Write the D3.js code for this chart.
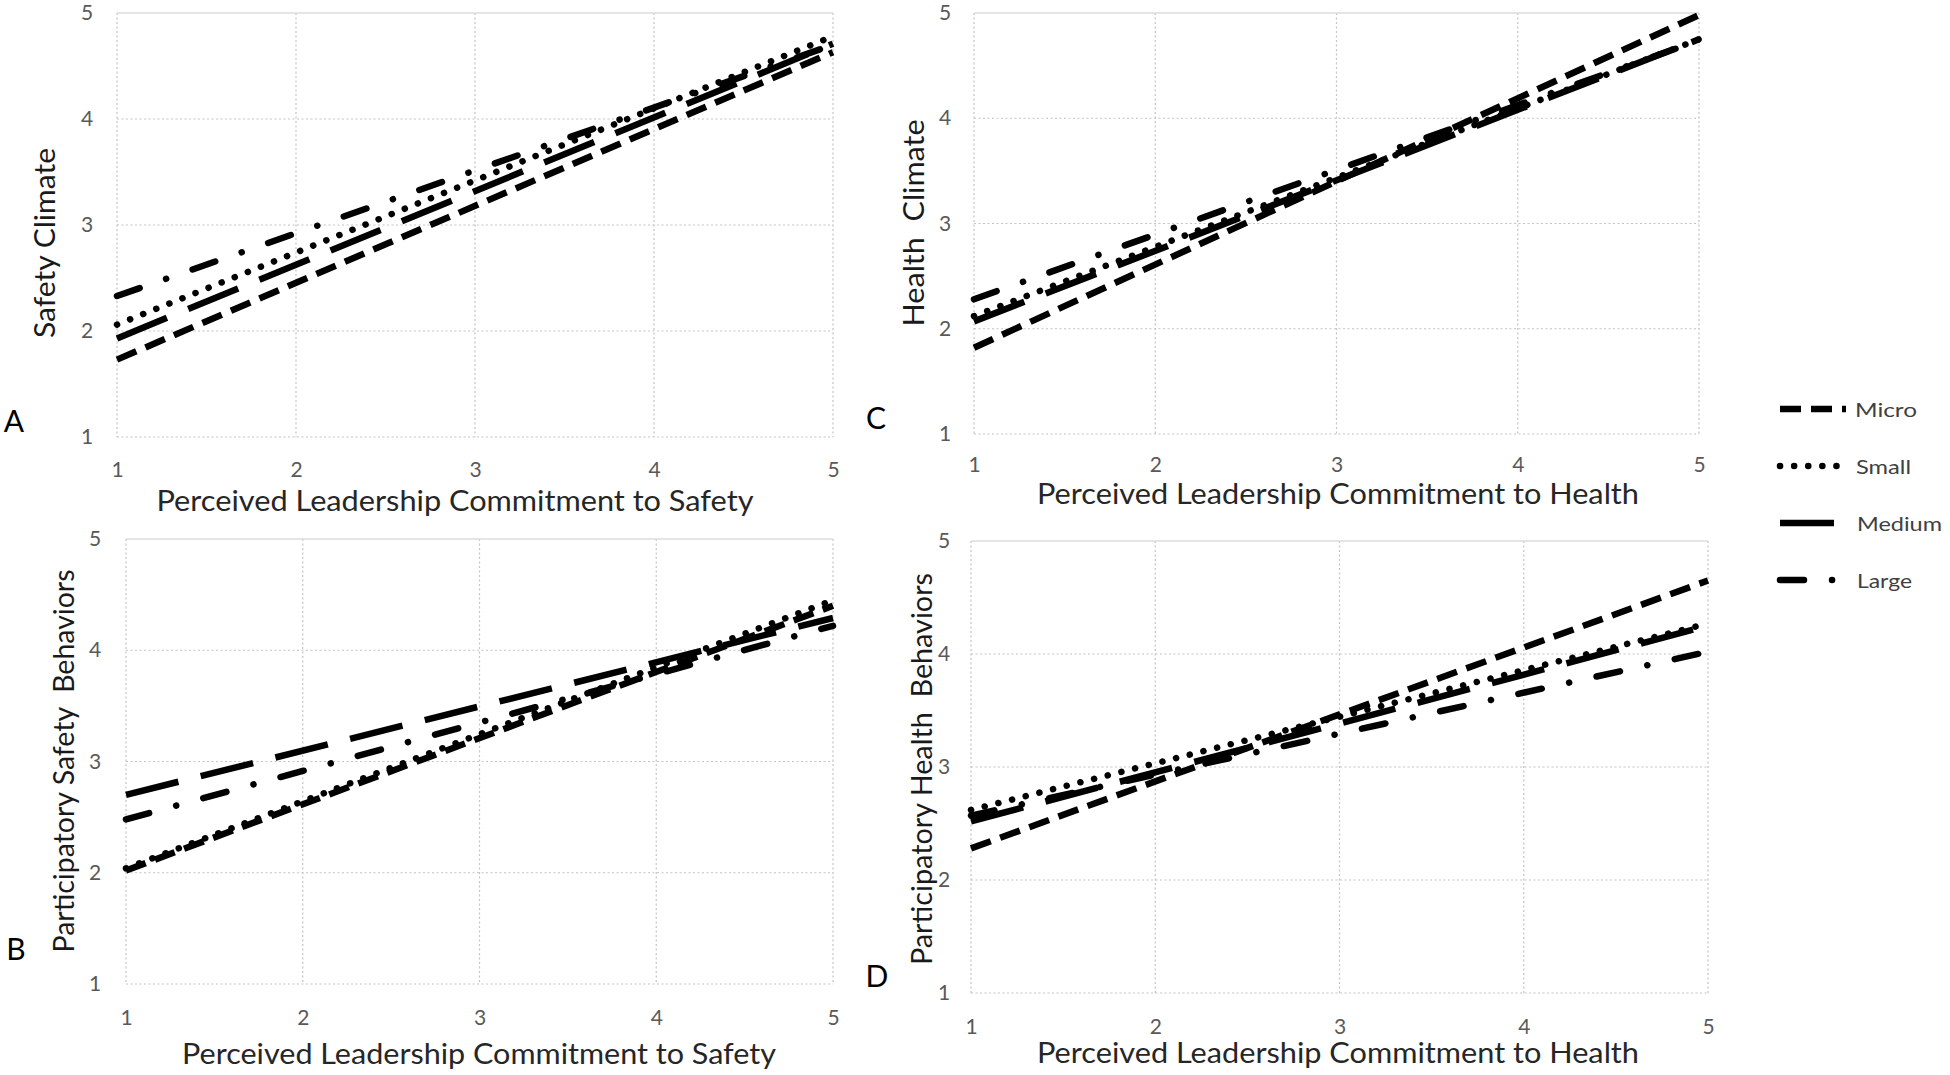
<!DOCTYPE html>
<html>
<head>
<meta charset="utf-8">
<script src="https://cdn.jsdelivr.net/npm/d3@7"></script>
<style>
  html, body { margin: 0; padding: 0; background: #fff; }
  svg text { font-family: Lato, "Open Sans", "Noto Sans", sans-serif; white-space: pre; }
</style>
</head>
<body>
<svg id="chart" width="1950" height="1075"></svg>
<script>
// ---------- data ----------
const seriesNames = ["Micro", "Small", "Medium", "Large"];
const xTickValues = [1, 2, 3, 4, 5];
const yTickValues = [1, 2, 3, 4, 5];
const xDomain = [1, 5];
const yDomain = [1, 5];

// value of each series at x = 1 and at x = 5
const safetyClimateStart = [1.73, 2.06, 1.93, 2.33];
const safetyClimateEnd   = [4.63, 4.78, 4.71, 4.70];

const safetyBehaviorStart = [2.02, 2.04, 2.70, 2.48];
const safetyBehaviorEnd   = [4.40, 4.45, 4.29, 4.22];

const healthClimateStart = [1.82, 2.12, 2.07, 2.28];
const healthClimateEnd   = [4.98, 4.75, 4.75, 4.74];

const healthBehaviorStart = [2.28, 2.62, 2.52, 2.57];
const healthBehaviorEnd   = [4.65, 4.27, 4.25, 4.02];

const panelLetters = ["A", "B", "C", "D"];
const xTitles = [
  "Perceived Leadership Commitment to Safety",
  "Perceived Leadership Commitment to Safety",
  "Perceived Leadership Commitment to Health",
  "Perceived Leadership Commitment to Health"
];
const yTitles = [
  "Safety Climate",
  "Participatory Safety  Behaviors",
  "Health  Climate",
  "Participatory Health  Behaviors"
];

// ---------- layout / style ----------
const panels = [
  { box: {l:117, r:833, t:13, b:437}, start: safetyClimateStart, end: safetyClimateEnd,
    letter: [14, 420], yTitle: [44, 243, 190], xTitle: [455, 500, 597], xTickY: 470, yTickX: 87 },
  { box: {l:126, r:833, t:539, b:984}, start: safetyBehaviorStart, end: safetyBehaviorEnd,
    letter: [16, 948], yTitle: [63, 761, 383], xTitle: [479, 1053, 594], xTickY: 1018, yTickX: 95 },
  { box: {l:974, r:1699, t:13, b:434}, start: healthClimateStart, end: healthClimateEnd,
    letter: [876, 417], yTitle: [913, 223, 207], xTitle: [1338, 493, 602], xTickY: 465, yTickX: 945 },
  { box: {l:971, r:1708, t:541, b:993}, start: healthBehaviorStart, end: healthBehaviorEnd,
    letter: [877, 975], yTitle: [921, 769, 392], xTitle: [1338, 1052, 602], xTickY: 1027, yTickX: 944 }
];

const SW = 6.5;
const styles = {
  Micro:  { dash: "21,10", cap: "butt" },
  Small:  { dash: "0.1,14", cap: "round" },
  Medium: { dash: "54,23", cap: "butt" },
  Large:  { dash: "24,28,0.1,28", cap: "round" }
};

const svg = d3.select("#chart");

panels.forEach((p, i) => {
  const x = d3.scaleLinear().domain(xDomain).range([p.box.l, p.box.r]);
  const y = d3.scaleLinear().domain(yDomain).range([p.box.b, p.box.t]);
  const g = svg.append("g");

  // grid (vertical)
  g.append("g").selectAll("line").data(xTickValues).join("line")
    .attr("x1", d => x(d)).attr("x2", d => x(d))
    .attr("y1", y(yDomain[1])).attr("y2", y(yDomain[0]))
    .attr("stroke", "#c4c4c4").attr("stroke-width", 1.2).attr("stroke-dasharray", "2,2.5");
  // grid (horizontal)
  g.append("g").selectAll("line").data(yTickValues).join("line")
    .attr("x1", x(xDomain[0])).attr("x2", x(xDomain[1]))
    .attr("y1", d => y(d)).attr("y2", d => y(d))
    .attr("stroke", d => d === yDomain[1] ? "#dddddd" : "#c4c4c4")
    .attr("stroke-width", d => d === yDomain[1] ? 1.6 : 1.2)
    .attr("stroke-dasharray", d => d === yDomain[1] ? null : "2,2.5");

  // tick labels via axes
  const xAxis = d3.axisBottom(x).tickValues(xTickValues).tickSize(0).tickFormat(d3.format("d"));
  const gx = g.append("g").attr("transform", `translate(0,${p.xTickY})`).call(xAxis);
  gx.select(".domain").remove();
  gx.selectAll("text").attr("dy", "0.35em").attr("y", 0)
    .attr("fill", "#595959").style("font-size", "21px").style("font-family", "Lato, sans-serif");

  const yAxis = d3.axisLeft(y).tickValues(yTickValues).tickSize(0).tickFormat(d3.format("d"));
  const gy = g.append("g").attr("transform", `translate(${p.yTickX},0)`).call(yAxis);
  gy.select(".domain").remove();
  gy.selectAll("text").attr("x", 0).attr("text-anchor", "middle")
    .attr("fill", "#595959").style("font-size", "21px").style("font-family", "Lato, sans-serif");

  // series lines
  const line = d3.line().x(d => x(d[0])).y(d => y(d[1]));
  seriesNames.forEach((name, k) => {
    const pts = [[xDomain[0], p.start[k]], [xDomain[1], p.end[k]]];
    g.append("path").datum(pts).attr("d", line)
      .attr("fill", "none").attr("stroke", "#000").attr("stroke-width", SW)
      .attr("stroke-dasharray", styles[name].dash).attr("stroke-linecap", styles[name].cap);
  });

  // axis titles
  g.append("text").attr("x", p.xTitle[0]).attr("y", p.xTitle[1])
    .attr("text-anchor", "middle").attr("dominant-baseline", "central")
    .attr("textLength", p.xTitle[2]).attr("lengthAdjust", "spacingAndGlyphs")
    .attr("fill", "#262626").style("font-size", "28px").text(xTitles[i]);

  g.append("text").attr("transform", `translate(${p.yTitle[0]},${p.yTitle[1]}) rotate(-90)`)
    .attr("text-anchor", "middle").attr("dominant-baseline", "central")
    .attr("textLength", p.yTitle[2]).attr("lengthAdjust", "spacingAndGlyphs")
    .attr("fill", "#1a1a1a").style("font-size", "28px").text(yTitles[i]);

  // panel letter
  g.append("text").attr("x", p.letter[0]).attr("y", p.letter[1])
    .attr("text-anchor", "middle").attr("dominant-baseline", "central")
    .attr("fill", "#000").style("font-size", "30px").text(panelLetters[i]);
});

// ---------- legend ----------
const legendY = d3.scalePoint().domain(seriesNames).range([409, 580]);
const legLen = { Micro: 66, Small: 66, Medium: 60, Large: 60 };
const legTextX = { Micro: 1855, Small: 1856, Medium: 1857, Large: 1857 };
const legTextW = { Micro: 62, Small: 55, Medium: 85, Large: 55 };
const legend = svg.append("g");
seriesNames.forEach(name => {
  const yy = legendY(name);
  legend.append("line").attr("x1", 1780).attr("x2", 1780 + legLen[name])
    .attr("y1", yy).attr("y2", yy)
    .attr("stroke", "#000").attr("stroke-width", SW)
    .attr("stroke-dasharray", styles[name].dash).attr("stroke-linecap", styles[name].cap);
  legend.append("text").attr("x", legTextX[name]).attr("y", yy).attr("dominant-baseline", "central")
    .attr("textLength", legTextW[name]).attr("lengthAdjust", "spacingAndGlyphs")
    .attr("fill", "#404040").style("font-size", "19px").text(name);
});
</script>
</body>
</html>
